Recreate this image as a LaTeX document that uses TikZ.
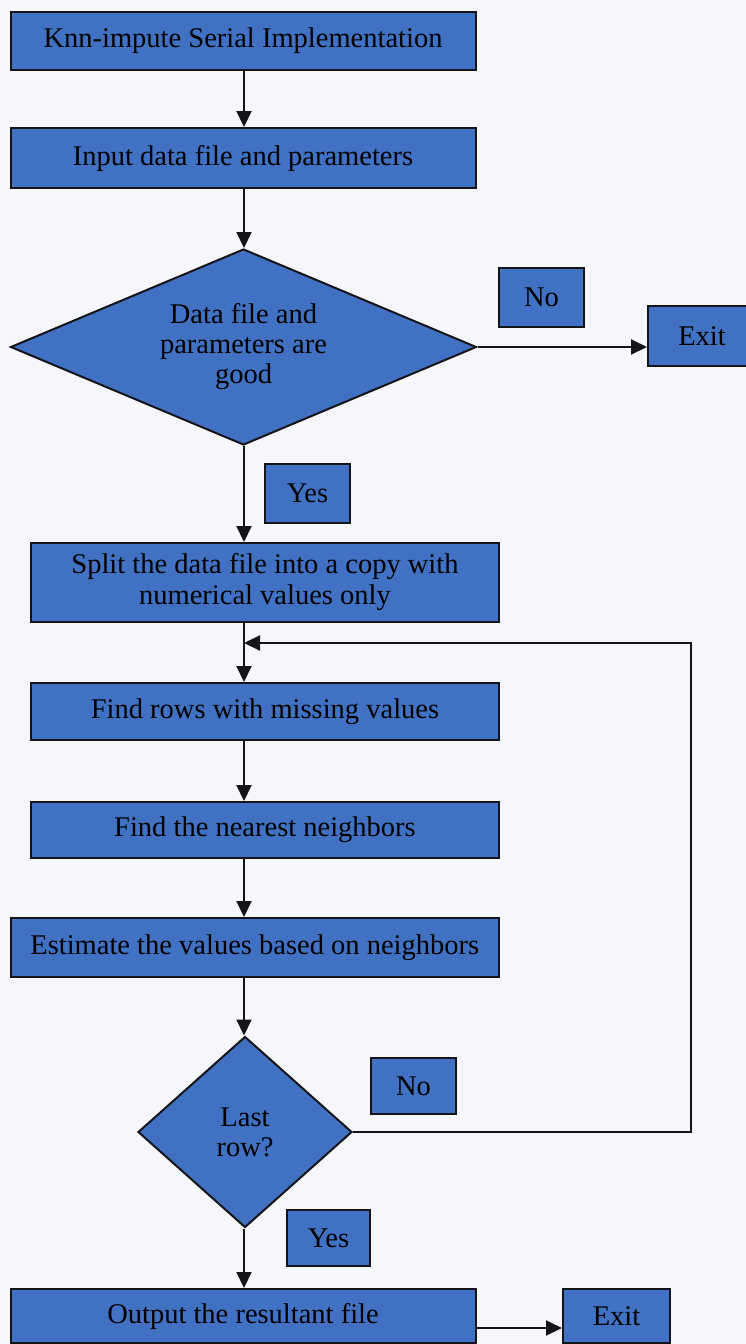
\documentclass[tikz,border=0pt]{standalone}
\usepackage{fontspec}
\setmainfont{Liberation Serif}
\usetikzlibrary{shapes.geometric,arrows.meta}
\definecolor{boxblue}{RGB}{64,113,195}
\definecolor{edge}{RGB}{20,20,26}
\definecolor{paper}{RGB}{246,247,250}
\tikzset{
  stepbox/.style={draw=edge, line width=2pt, fill=boxblue, rectangle,
    inner sep=0pt, align=center, font=\fontsize{28.5}{31}\selectfont},
  decision/.style={draw=edge, line width=2pt, fill=boxblue, diamond,
    inner sep=0pt, align=center, font=\fontsize{28.5}{30}\selectfont},
  tag/.style={stepbox},
  flow/.style={draw=edge, line width=2pt, -{Triangle[length=16pt,width=15pt]}},
}
\begin{document}
\begin{tikzpicture}[x=1pt,y=-1pt]
  \fill[paper] (0,0) rectangle (746,1344);
  \useasboundingbox (0,0) rectangle (746,1344);

  % main column
  \node[stepbox, minimum width=465pt, minimum height=58pt] (start) at (243,41) {Knn-impute Serial Implementation};
  \node[stepbox, minimum width=465pt, minimum height=60pt] (input) at (243,158) {Input data file and parameters};
  \node[decision, minimum width=466pt, minimum height=196pt, aspect=2.38] (check) at (243.5,347) {Data file and\\parameters are\\good};
  \node[stepbox, minimum width=468pt, minimum height=79pt] (split) at (265,582.5) {Split the data file into a copy with\\numerical values only};
  \node[stepbox, minimum width=468pt, minimum height=57pt] (rows) at (265,711.5) {Find rows with missing values};
  \node[stepbox, minimum width=468pt, minimum height=56pt] (near) at (265,830) {Find the nearest neighbors};
  \node[stepbox, minimum width=488pt, minimum height=59pt] (est) at (254.75,947.5) {Estimate the values based on neighbors};
  \node[decision, minimum width=214pt, minimum height=191pt, aspect=1.12] (last) at (245,1132) {Last\\row?};
  \node[stepbox, minimum width=465pt, minimum height=54pt] (out) at (243,1316) {Output the resultant file};

  % branch labels and exits
  \node[tag, minimum width=85pt, minimum height=59pt] (no1) at (541.5,297.5) {No};
  \node[tag, minimum width=108pt, minimum height=60pt] (exit1) at (702,336) {Exit};
  \node[tag, minimum width=85pt, minimum height=59pt] (yes1) at (307.5,493.5) {Yes};
  \node[tag, minimum width=85pt, minimum height=56pt] (no2) at (413.5,1086) {No};
  \node[tag, minimum width=83pt, minimum height=56pt] (yes2) at (328.5,1238) {Yes};
  \node[tag, minimum width=107pt, minimum height=54pt] (exit2) at (616.5,1316) {Exit};

  % helper points
  \coordinate (axis) at (244,0);
  \coordinate (loop) at (691,643);
  \coordinate (outport) at (476,1328);

  % connectors
  \draw[flow] (axis |- start.south) -- (axis |- input.north);
  \draw[flow] (axis |- input.south) -- (axis |- check.north);
  \draw[flow] (check.east) -- (check.east -| exit1.west);
  \draw[flow] (axis |- check.south) -- (axis |- split.north);
  \draw[flow] (axis |- split.south) -- (axis |- rows.north);
  \draw[flow] (axis |- rows.south) -- (axis |- near.north);
  \draw[flow] (axis |- near.south) -- (axis |- est.north);
  \draw[flow] (axis |- est.south) -- (axis |- last.north);
  \draw[flow] (last.east) -| (loop) -- (axis |- loop);
  \draw[flow] (axis |- last.south) -- (axis |- out.north);
  \draw[flow] (outport) -- (outport -| exit2.west);
\end{tikzpicture}
\end{document}
